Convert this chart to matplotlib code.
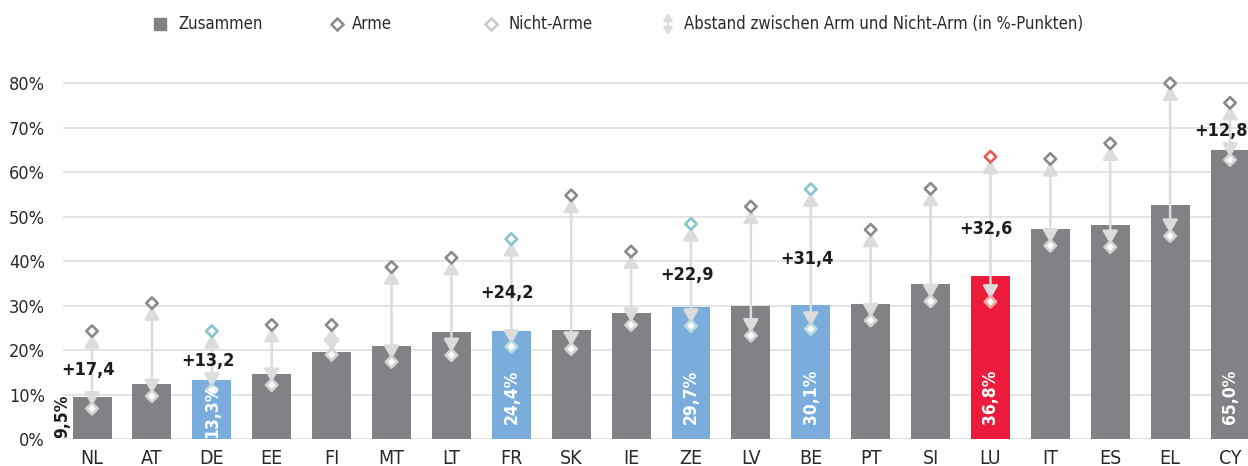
import numpy as np
import matplotlib
matplotlib.use('Agg')
import matplotlib.pyplot as plt
from matplotlib.patches import FancyArrowPatch, ArrowStyle

countries = ['NL', 'AT', 'DE', 'EE', 'FI', 'MT', 'LT', 'FR', 'SK', 'IE',
             'ZE', 'LV', 'BE', 'PT', 'SI', 'LU', 'IT', 'ES', 'EL', 'CY']
total = [9.5, 12.4, 13.3, 14.7, 19.6, 20.9, 24.1, 24.4, 24.6, 28.4,
         29.7, 29.9, 30.1, 30.3, 34.8, 36.8, 47.3, 48.2, 52.6, 65.0]
arme = [24.3, 30.6, 24.3, 25.7, 25.7, 38.7, 40.8, 45.0, 54.8, 42.2,
        48.4, 52.3, 56.2, 47.1, 56.3, 63.5, 63.0, 66.5, 80.0, 75.6]
nicht_arme = [6.9, 9.7, 11.1, 12.2, 19.0, 17.4, 18.9, 20.8, 20.3, 25.7,
              25.5, 23.3, 24.8, 26.7, 31.0, 30.9, 43.5, 43.2, 45.7, 62.8]
yticks = [0, 10, 20, 30, 40, 50, 60, 70, 80]
blue_countries = ['DE', 'FR', 'ZE', 'BE']
red_countries = ['LU']
gap_label_countries = ['NL', 'DE', 'FR', 'ZE', 'BE', 'LU', 'CY']
value_label_countries = ['NL', 'DE', 'FR', 'ZE', 'BE', 'LU', 'CY']
legend_labels = ['Zusammen', 'Arme', 'Nicht-Arme',
                 'Abstand zwischen Arm und Nicht-Arm (in %-Punkten)']

plt.rcParams['font.family'] = ['DejaVu Sans']
plt.rcParams['font.stretch'] = 'condensed'

GREY = '#818285'
BLUE = '#7aaddc'
RED = '#ed1b3b'
ARROW = '#dcdcdc'

W, H = 1248, 466
PX = 4.45  # pixels per percentage point
fig = plt.figure(figsize=(W / 100, H / 100), dpi=100)
ax = fig.add_axes([63 / W, (H - 439.3) / H, (W - 63) / W, 85 * PX / H])
XMAX = 19.3

x = np.arange(len(countries))
bar_colors = []
up_edge = []
low_edge = []
for c in countries:
    if c in blue_countries:
        bar_colors.append(BLUE); up_edge.append('#86c3cc'); low_edge.append('#bcdcdc')
    elif c in red_countries:
        bar_colors.append(RED); up_edge.append('#e85a55'); low_edge.append('#f2a6a6')
    else:
        bar_colors.append(GREY); up_edge.append('#8a8a8a'); low_edge.append('#d4d4d4')

ax.bar(x, total, width=0.65, color=bar_colors, zorder=2)

style = ArrowStyle('<|-|>', head_length=8, head_width=4.6)
for xi, lo, hi in zip(x, nicht_arme, arme):
    ax.add_patch(FancyArrowPatch((xi, lo), (xi, hi), arrowstyle=style,
                                 mutation_scale=1, shrinkA=2, shrinkB=2,
                                 color=ARROW, lw=1.8, zorder=3))

ax.scatter(x, arme, marker='D', s=34, facecolors='white', edgecolors=up_edge,
           linewidths=1.9, zorder=5, clip_on=False)
ax.scatter(x, nicht_arme, marker='D', s=34, facecolors='white', edgecolors=low_edge,
           linewidths=1.9, zorder=5, clip_on=False)

def de(v, nd=1):
    return f'{v:.{nd}f}'.replace('.', ',')

for i, c in enumerate(countries):
    if c in gap_label_countries:
        mid = (arme[i] + nicht_arme[i]) / 2
        lab = '+' + de(arme[i] - nicht_arme[i])
        if x[i] + 0.45 > XMAX:
            ax.text(XMAX, mid, lab, ha='right', va='center', fontsize=13,
                    fontweight='bold', color='#1e1e1e', zorder=6, clip_on=False)
        else:
            ax.text(x[i] - 0.07, mid, lab, ha='center', va='center', fontsize=13,
                    fontweight='bold', color='#1e1e1e', zorder=6, clip_on=False)
    if c in value_label_countries:
        txt = de(total[i]) + '%'
        if c == 'NL':
            ax.text(-0.49, 0.3, txt, rotation=90, ha='center', va='bottom',
                    fontsize=12.5, fontweight='bold', color='#1e1e1e', zorder=6, clip_on=False)
        elif total[i] < 20:
            ax.text(x[i], 0.3, txt, rotation=90, ha='center', va='bottom',
                    fontsize=12.5, fontweight='bold', color='white', zorder=6)
        else:
            ax.text(x[i], 9.5, txt, rotation=90, ha='center', va='center',
                    fontsize=12.5, fontweight='bold', color='white', zorder=6)

ax.set_xlim(-0.485, XMAX)
ax.set_ylim(0, 85)
ax.set_yticks(yticks)
ax.set_yticklabels([f'{v}%' for v in yticks], fontsize=13, color='#2a2a2a')
ax.set_xticks(x)
ax.set_xticklabels(countries, fontsize=14, color='#2a2a2a')
ax.tick_params(axis='y', length=0, pad=13)
ax.tick_params(axis='x', length=0, pad=7)
for s in ax.spines.values():
    s.set_visible(False)
ax.yaxis.grid(True, color='#e2e2e2', lw=1.3)
ax.set_axisbelow(True)

# legend
lax = fig.add_axes([0, 0, 1, 1])
lax.set_xlim(0, W)
lax.set_ylim(H, 0)
lax.axis('off')
ly = 24
lax.plot([160], [ly], marker='s', ms=8, color=GREY, ls='none')
lax.plot([337], [ly], marker='D', ms=6, mfc='white', mec='#8a8a8a', mew=1.8, ls='none')
lax.plot([491], [ly], marker='D', ms=6, mfc='white', mec='#c8c8c8', mew=1.8, ls='none')
lax.add_patch(FancyArrowPatch((668, 38), (668, 10),
                              arrowstyle=ArrowStyle('<|-|>', head_length=5, head_width=3),
                              mutation_scale=1, color=ARROW, lw=1.3))
for tx, lab in zip([178, 352, 508, 684], legend_labels):
    lax.text(tx, ly, lab, ha='left', va='center', fontsize=12, color='#2a2a2a')

fig.savefig('out.png', dpi=100)
